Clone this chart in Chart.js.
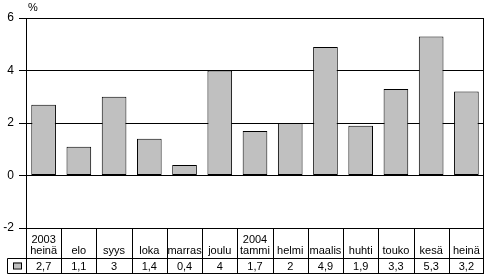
<!DOCTYPE html>
<html>
<head>
    <title>Kuukausimuutos</title>
    <script src="https://cdn.jsdelivr.net/npm/chart.js@4.4.0/dist/chart.umd.min.js"></script>
    <style>
        body { margin: 0; background: #fff; }
        #wrap { width: 486px; height: 274px; }
    </style>
</head>
<body>
    <div id="wrap"><canvas id="chart" width="486" height="274"></canvas></div>
    <script>
        // kuukaudet (kaksirivinen nimi kun vuosi vaihtuu)
        var months = [['2003', 'heinä'], ['', 'elo'], ['', 'syys'], ['', 'loka'], ['', 'marras'], ['', 'joulu'],
                      ['2004', 'tammi'], ['', 'helmi'], ['', 'maalis'], ['', 'huhti'], ['', 'touko'], ['', 'kesä'], ['', 'heinä']];
        var values = [2.7, 1.1, 3, 1.4, 0.4, 4, 1.7, 2, 4.9, 1.9, 3.3, 5.3, 3.2];
        var valueLabels = ['2,7', '1,1', '3', '1,4', '0,4', '4', '1,7', '2', '4,9', '1,9', '3,3', '5,3', '3,2'];
        var yTicks = [-2, 0, 2, 4, 6];

        var FONT = '11px "Liberation Sans", Arial, sans-serif';

        // data table under the plot + % label + right frame
        var tablePlugin = {
            id: 'dataTable',
            afterDraw: function (chart) {
                var ctx = chart.ctx;
                var area = chart.chartArea;
                var x = chart.scales.x;
                var colW = (area.right - area.left) / months.length;
                var top = Math.round(area.bottom) + 0.5;
                var mid = top + 30;
                var bot = top + 45;
                var legendLeft = 7.5;

                ctx.save();
                ctx.strokeStyle = '#000';
                ctx.lineWidth = 1;
                ctx.beginPath();
                // right frame of plot and table
                ctx.moveTo(Math.round(area.right) - 0.5, area.top);
                ctx.lineTo(Math.round(area.right) - 0.5, bot);
                // horizontal lines
                ctx.moveTo(legendLeft, mid); ctx.lineTo(area.right, mid);
                ctx.moveTo(legendLeft, bot); ctx.lineTo(area.right, bot);
                ctx.moveTo(legendLeft, mid); ctx.lineTo(legendLeft, bot);
                for (var i = 0; i < months.length; i++) {
                    var bx = Math.round(area.left + i * colW) + 0.5;
                    ctx.moveTo(bx, top); ctx.lineTo(bx, bot);
                }
                ctx.stroke();

                // legend swatch
                ctx.fillStyle = '#c0c0c0';
                ctx.fillRect(13, mid + 4, 9, 6);
                ctx.strokeRect(13.5, mid + 4.5, 8, 6);

                ctx.fillStyle = '#000';
                ctx.font = FONT;
                ctx.textAlign = 'center';
                ctx.textBaseline = 'middle';
                for (var j = 0; j < months.length; j++) {
                    var cx = x.getPixelForValue(j);
                    if (months[j][0]) ctx.fillText(months[j][0], cx, top + 11);
                    ctx.fillText(months[j][1], cx, top + 22);
                    ctx.fillText(valueLabels[j], cx, mid + 8);
                }

                ctx.textAlign = 'left';
                ctx.fillText('%', area.left + 2, 8);
                ctx.restore();
            }
        };

        var ctx = document.getElementById('chart').getContext('2d');
        var chart = new Chart(ctx, {
            type: 'bar',
            data: {
                labels: months,
                datasets: [{
                    data: values,
                    backgroundColor: '#c0c0c0',
                    borderColor: '#000',
                    borderWidth: 1,
                    borderSkipped: false,
                    barPercentage: 0.7,
                    categoryPercentage: 1
                }]
            },
            options: {
                responsive: false,
                animation: false,
                layout: { padding: { top: 18, bottom: 46, right: 2, left: 0 } },
                plugins: { legend: { display: false }, tooltip: { enabled: false } },
                scales: {
                    x: { display: false },
                    y: {
                        min: -2,
                        max: 6,
                        afterBuildTicks: function (s) { s.ticks = yTicks.map(function (v) { return { value: v }; }); },
                        afterFit: function (s) { s.width = 26; },
                        grid: { color: '#000', lineWidth: 1, tickLength: 7 },
                        border: { color: '#000', width: 1 },
                        ticks: {
                            color: '#000',
                            padding: 5,
                            font: { family: '"Liberation Sans", Arial, sans-serif', size: 12 }
                        }
                    }
                }
            },
            plugins: [tablePlugin]
        });
    </script>
</body>
</html>
